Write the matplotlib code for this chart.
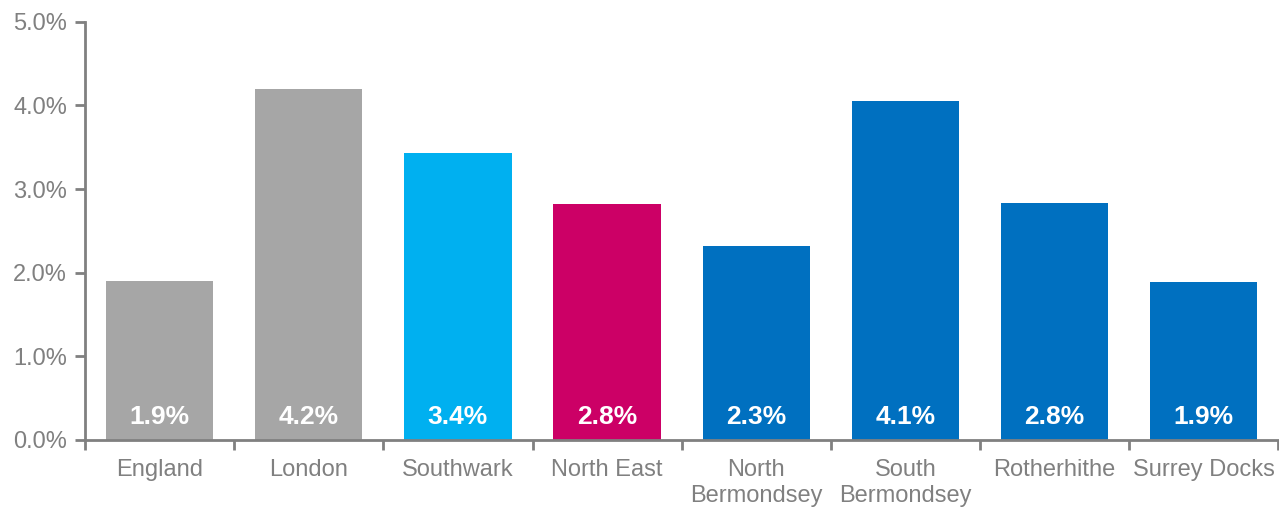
import numpy as np
import matplotlib
matplotlib.use("Agg")
import matplotlib.pyplot as plt
from matplotlib.ticker import FuncFormatter

plt.rcParams['font.family'] = ['Liberation Sans', 'DejaVu Sans']

# data
areas = ["England", "London", "Southwark", "North East", "North\nBermondsey",
         "South\nBermondsey", "Rotherhithe", "Surrey Docks"]
rates = [1.9, 4.2, 3.43, 2.82, 2.32, 4.05, 2.83, 1.89]
labels = ["1.9%", "4.2%", "3.4%", "2.8%", "2.3%", "4.1%", "2.8%", "1.9%"]
colours = ["#A6A6A6", "#A6A6A6", "#00B0F0", "#CC0066",
           "#0070C0", "#0070C0", "#0070C0", "#0070C0"]

grey = "#808080"

fig = plt.figure(figsize=(12.79, 5.08), dpi=100)
ax = fig.add_axes([0.0665, 0.134, 0.933, 0.823])

x = np.arange(len(areas))
ax.bar(x, rates, width=0.72, color=colours, zorder=2)

# value labels inside the bars
for xi, lab in zip(x, labels):
    ax.text(xi, 0.28, lab, ha='center', va='center', color='white',
            fontsize=19, fontweight='bold')

ax.set_xlim(-0.5, len(areas) - 0.5)
ax.set_ylim(0, 5)
ax.set_yticks(np.arange(0, 5.01, 1))
ax.yaxis.set_major_formatter(FuncFormatter(lambda v, p: f"{v:.1f}%"))

ax.set_xticks(x)
ax.set_xticklabels(areas, linespacing=1.2)
ax.set_xticks(np.arange(-0.5, len(areas) - 0.4, 1), minor=True)
ax.tick_params(axis='x', which='major', length=0, pad=14, labelsize=17,
               labelcolor=grey)
ax.tick_params(axis='x', which='minor', length=7, width=2, color=grey,
               direction='out')
ax.tick_params(axis='y', length=7, width=2, color=grey, pad=6,
               labelsize=17, labelcolor=grey)

for s in ['top', 'right']:
    ax.spines[s].set_visible(False)
for s in ['left', 'bottom']:
    ax.spines[s].set_color(grey)
    ax.spines[s].set_linewidth(2)

fig.savefig("out.png", dpi=100)
